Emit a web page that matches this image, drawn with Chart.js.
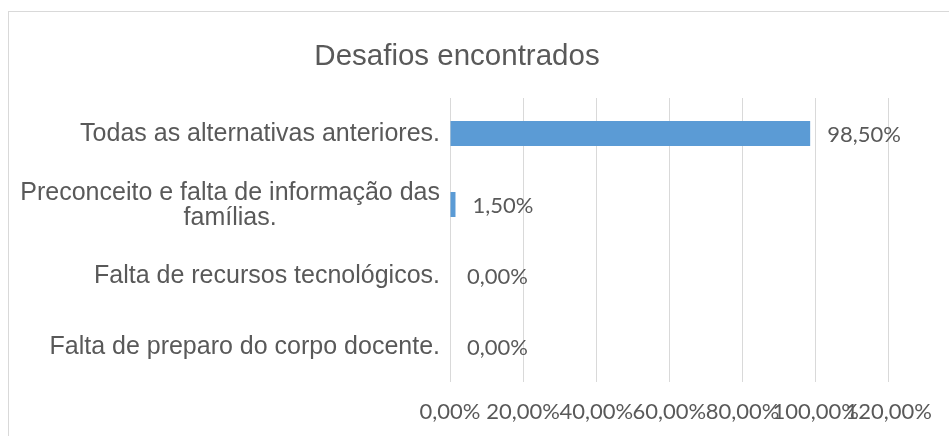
<!DOCTYPE html>
<html>
<head>
<meta charset="utf-8">
<script src="https://cdn.jsdelivr.net/npm/chart.js@4"></script>
<style>
  html, body { margin: 0; padding: 0; background: #fff; overflow: hidden; }
  #frame { position: absolute; left: 8px; top: 11px; width: 980px; height: 460px;
           border-top: 1px solid #d9d9d9; border-left: 1px solid #d9d9d9; }
  #wrap { position: absolute; left: 0; top: 0; width: 949px; height: 436px; }
</style>
</head>
<body>
<div id="frame"></div>
<div id="wrap"><canvas id="chart" width="949" height="436"></canvas></div>
<script>
// categories, top to bottom
const categories = [
  "Todas as alternativas anteriores.",
  ["Preconceito e falta de informação das", "famílias."],
  "Falta de recursos tecnológicos.",
  "Falta de preparo do corpo docente."
];
const values = [98.5, 1.5, 0, 0];
const title = "Desafios encontrados";

const textGray = "#595959";
const pct = v => v.toFixed(2).replace(".", ",") + "%";

// value labels next to each bar
const valueLabels = {
  id: "valueLabels",
  afterDatasetsDraw(chart) {
    const ctx = chart.ctx;
    const meta = chart.getDatasetMeta(0);
    ctx.save();
    ctx.font = "22px Lato";
    ctx.fillStyle = textGray;
    ctx.textAlign = "left";
    ctx.textBaseline = "middle";
    meta.data.forEach((bar, i) => {
      ctx.fillText(pct(values[i]), bar.x + 17, bar.y + 1);
    });
    ctx.restore();
  }
};

// category labels, wrapped lines centred on the widest line
const catLabels = {
  id: "catLabels",
  afterDraw(chart) {
    const ctx = chart.ctx;
    const y = chart.scales.y;
    const right = chart.chartArea.left - 10;
    ctx.save();
    ctx.font = "25px 'Liberation Sans'";
    ctx.fillStyle = textGray;
    ctx.textAlign = "center";
    ctx.textBaseline = "middle";
    categories.forEach((c, i) => {
      const lines = Array.isArray(c) ? c : [c];
      const w = Math.max(...lines.map(l => ctx.measureText(l).width));
      const cx = right - w / 2;
      const lh = 25;
      const cy = y.getPixelForValue(i) + 1;
      lines.forEach((l, k) => {
        ctx.fillText(l, cx, cy + (k - (lines.length - 1) / 2) * lh);
      });
    });
    // title
    ctx.font = "29.5px 'Liberation Sans'";
    ctx.textBaseline = "alphabetic";
    ctx.fillText(title, 457, 65);
    ctx.restore();
  }
};

new Chart(document.getElementById("chart"), {
  type: "bar",
  data: {
    labels: categories,
    datasets: [{
      data: values,
      backgroundColor: "#5b9bd5",
      borderWidth: 0,
      categoryPercentage: 1,
      barPercentage: 0.35
    }]
  },
  options: {
    indexAxis: "y",
    responsive: false,
    animation: false,
    layout: { padding: { left: 0, top: 98, right: 58, bottom: 0 } },
    plugins: { legend: { display: false }, tooltip: { enabled: false }, title: { display: false } },
    scales: {
      x: {
        min: 0,
        max: 120,
        afterFit(s) { s.height = 54; },
        ticks: {
          stepSize: 20,
          autoSkip: false,
          maxRotation: 0,
          padding: 17,
          color: textGray,
          font: { family: "Lato", size: 22 },
          callback: v => pct(v)
        },
        grid: { color: "#d9d9d9", drawTicks: false },
        border: { display: false }
      },
      y: {
        afterFit(s) { s.width = 450; },
        ticks: { display: false },
        grid: { display: false },
        border: { display: false }
      }
    }
  },
  plugins: [valueLabels, catLabels]
});
</script>
</body>
</html>
